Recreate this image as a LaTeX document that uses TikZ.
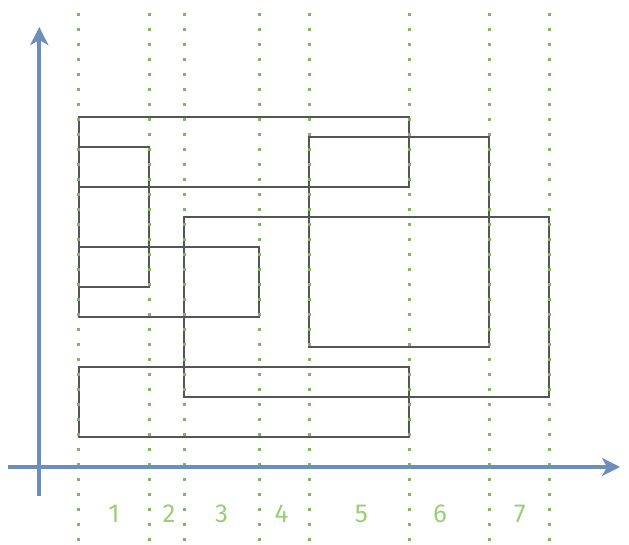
\documentclass[tikz,border=0pt]{standalone}
\usepackage{fontspec}
\setmainfont{Fira Sans}
\usetikzlibrary{arrows.meta}
\definecolor{axisblue}{RGB}{108,142,191}
\definecolor{gridgreen}{RGB}{130,179,102}
\definecolor{labgreen}{RGB}{151,208,119}
\definecolor{boxgray}{RGB}{85,85,85}
\tikzset{
  gridline/.style={gridgreen, line width=3pt, dash pattern=on 3pt off 12pt},
  axisline/.style={axisblue, line width=4pt, -{Stealth[length=18pt,width=18pt,inset=5pt]}},
  boxrect/.style={boxgray, line width=2pt},
  lab/.style={labgreen, font=\fontsize{26}{31}\selectfont, inner sep=0pt, anchor=center}
}
\begin{document}
\begin{tikzpicture}[x=1pt,y=-1pt]
\useasboundingbox (0,0) rectangle (629,544);
% rectangles
\draw[boxrect] (79,117) rectangle (409,187);
\draw[boxrect] (79,147) rectangle (149,287);
\draw[boxrect] (79,247) rectangle (259,317);
\draw[boxrect] (309,137) rectangle (489,347);
\draw[boxrect] (184,217) rectangle (549,397);
\draw[boxrect] (79,367) rectangle (409,437);
% dotted grid lines
\foreach \gx [count=\i] in {78.5,149.3,184.3,259,309,409,489,549}{
  \coordinate (gt\i) at (\gx,13.2);
  \coordinate (gb\i) at (\gx,541);
  \draw[gridline] (gt\i) -- (gb\i);
}
% axes
\coordinate (ys) at (39.3,496);
\coordinate (ye) at (39.3,27);
\coordinate (xs) at (8,467);
\coordinate (xe) at (620,467);
\draw[axisline] (ys) -- (ye);
\draw[axisline] (xs) -- (xe);
% labels
\node[lab] (l1) at (114,514) {1};
\node[lab] (l2) at (169,514) {2};
\node[lab] (l3) at (221.5,514) {3};
\node[lab] (l4) at (281.5,514) {4};
\node[lab] (l5) at (361.5,514) {5};
\node[lab] (l6) at (440,514) {6};
\node[lab] (l7) at (520,514) {7};
\end{tikzpicture}
\end{document}
